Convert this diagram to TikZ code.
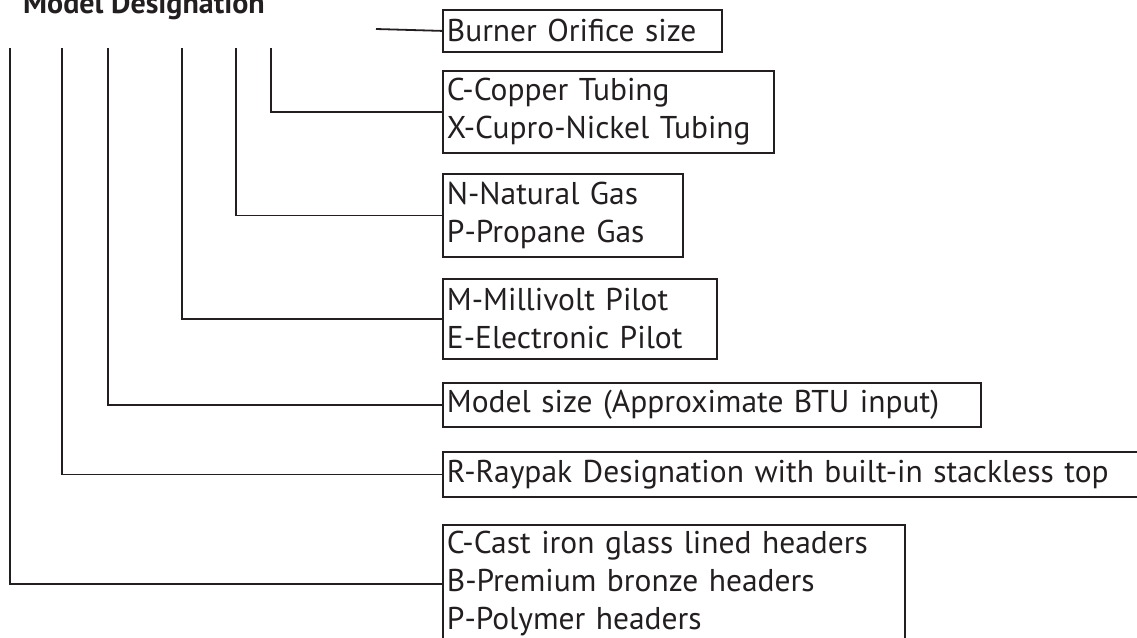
\documentclass[tikz,border=0pt]{standalone}
\usepackage{fontspec}
\setmainfont{PT Sans}
\usetikzlibrary{positioning}
\definecolor{mdInk}{HTML}{231F20}
\tikzset{
  codebox/.style={
    draw=mdInk, line width=1.8pt, anchor=north west, inner xsep=4pt, inner ysep=0pt,
    align=left, text=mdInk, font=\fontsize{31.5}{38}\selectfont
  },
  leader/.style={line width=1.8pt, mdInk},
  heading/.style={font=\fontsize{30}{32}\selectfont\bfseries, text=mdInk, inner sep=0pt}
}
\begin{document}
\begin{tikzpicture}[x=1pt, y=-1pt]
  \useasboundingbox (0,0) rectangle (1137,637);
  % heading
  \node[heading, anchor=base east] (title) at (265,13) {Model Designation};
  % option boxes
  \node[codebox, minimum width=279pt, minimum height=42pt, text width=271pt] (orifice) at (442,9) {Burner Orifice size};
  \node[codebox, minimum width=331pt, minimum height=82pt, text width=323pt] (tubing) at (442,70) {C-Copper Tubing\\X-Cupro-Nickel Tubing};
  \node[codebox, minimum width=240pt, minimum height=83pt, text width=232pt] (gas) at (442,173) {N-Natural Gas\\P-Propane Gas};
  \node[codebox, minimum width=274pt, minimum height=80pt, text width=266pt] (pilot) at (442,278) {M-Millivolt Pilot\\E-Electronic Pilot};
  \node[codebox, minimum width=538pt, minimum height=44pt, text width=530pt] (size) at (442,382) {Model size (Approximate BTU input)};
  \node[codebox, minimum width=700pt, minimum height=45pt, text width=692pt] (brand) at (442,451) {R-Raypak Designation with built-in stackless top};
  \node[codebox, minimum width=462pt, minimum height=118pt, text width=454pt] (headers) at (442,524) {C-Cast iron glass lined headers\\B-Premium bronze headers\\P-Polymer headers};
  % leaders
  \coordinate (torifice) at (376,29);
  \draw[leader] (torifice) -- (orifice.west);
  \foreach \x/\b in {10/headers,62/brand,108/size,182/pilot,236/gas,271/tubing}{
    \coordinate (t\b) at (\x,48);
    \draw[leader] (t\b) |- (\b.west);
  }
\end{tikzpicture}
\end{document}
